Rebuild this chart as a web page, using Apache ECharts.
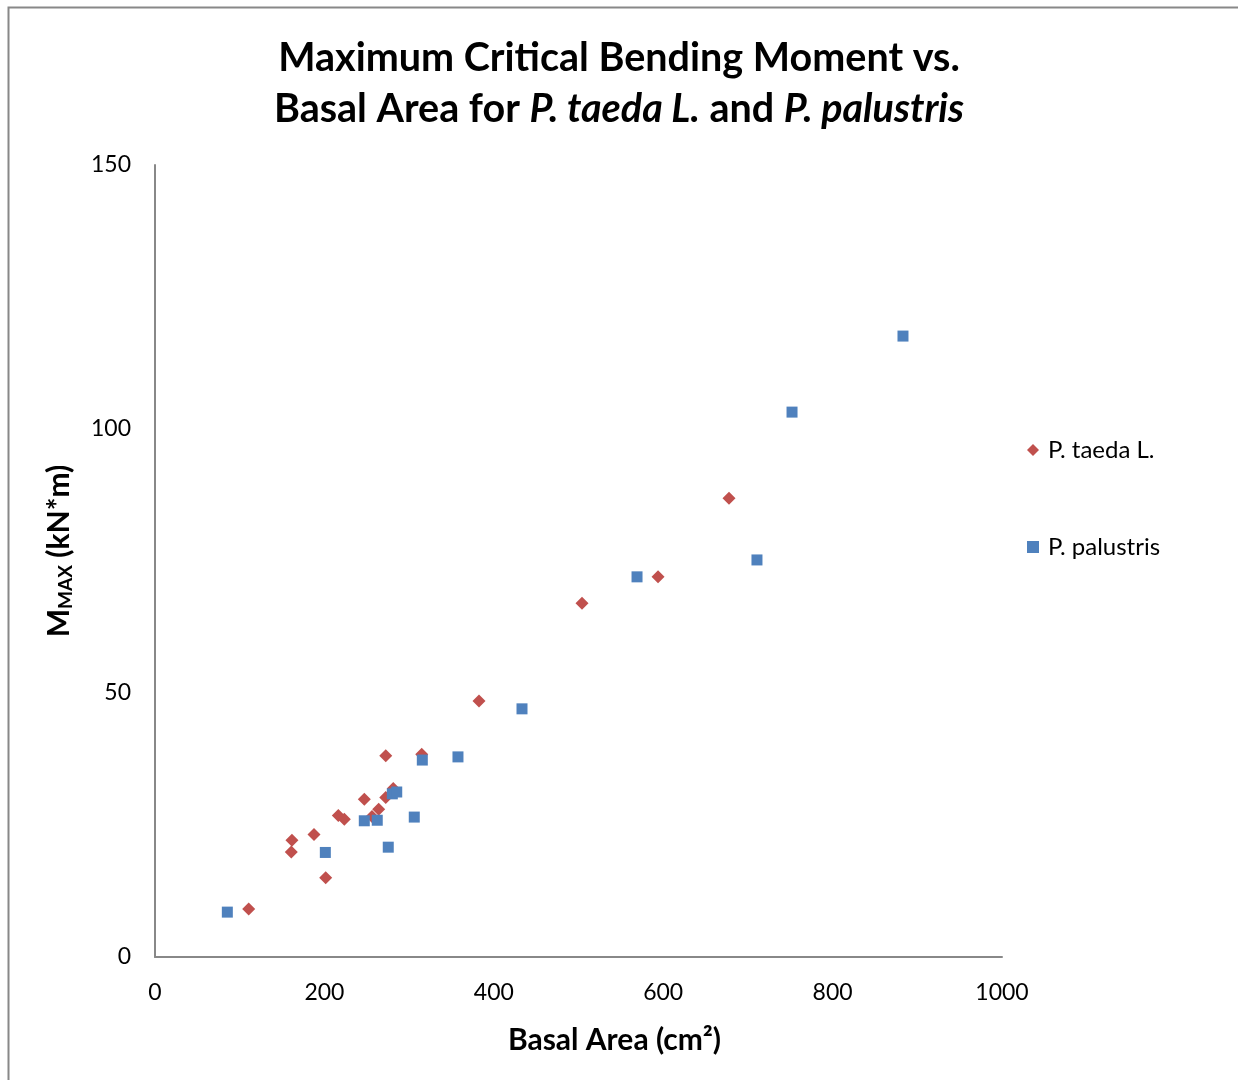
<!DOCTYPE html>
<html>
<head>
<meta charset="utf-8">
<script src="https://cdn.jsdelivr.net/npm/echarts@6/dist/echarts.min.js"></script>
<style>
html,body{margin:0;padding:0;background:#fff;}
#c{width:1238px;height:1080px;}
</style>
</head>
<body>
<div id="c"></div>
<script>
// P. taeda L. : [basal area cm², Mmax kN*m]
const taedaX = [110.6, 160.9, 161.7, 187.7, 201.5, 216.4, 223.5, 247.1, 256.2, 264.1, 272.4, 272.4, 281.3, 314.9, 382.5, 504.1, 593.9, 677.7];
const taedaY = [9.1, 19.9, 22.1, 23.2, 15.0, 26.8, 26.1, 29.9, 26.6, 28.0, 30.2, 38.1, 31.9, 38.4, 48.5, 67.0, 72.0, 86.9];
// P. palustris
const palX = [85.4, 201.1, 247.1, 262.4, 275.4, 280.2, 285.4, 306.1, 315.6, 357.7, 433.3, 569.1, 710.7, 752.1, 883.1];
const palY = [8.5, 19.8, 25.8, 25.9, 20.8, 30.9, 31.25, 26.5, 37.3, 37.9, 47.0, 72.0, 75.2, 103.2, 117.6];
const seriesNames = ['P. taeda L.', 'P. palustris'];
const xTicks = {min: 0, max: 1000, interval: 200};
const yTicks = {min: 0, max: 150, interval: 50};

const font = 'Lato, "Open Sans", sans-serif';
const chart = echarts.init(document.getElementById('c'));
chart.setOption({
  animation: false,
  backgroundColor: '#fff',
  graphic: [{
    type: 'rect', shape: {x: 8.5, y: 7.5, width: 1240, height: 1090},
    style: {fill: 'none', stroke: '#888', lineWidth: 2}, silent: true
  }],
  title: {
    left: 'center', top: 28, padding: [5, 5, 5, 15],
    text: 'Maximum Critical Bending Moment vs.\nBasal Area for {i|P. taeda L.} and {i|P. palustris}',
    textStyle: {
      fontFamily: font, fontSize: 39.5, fontWeight: 'bold', color: '#000', lineHeight: 51,
      rich: {i: {fontFamily: font, fontSize: 39.5, fontWeight: 'bold', fontStyle: 'italic', color: '#000'}}
    }
  },
  legend: {
    orient: 'vertical', left: 1022, top: 433, itemGap: 73,
    itemWidth: 12, itemHeight: 12,
    textStyle: {fontFamily: font, fontSize: 24, color: '#000', padding: [0, 0, 0, 4]},
    data: [
      {name: seriesNames[0], icon: 'diamond'},
      {name: seriesNames[1], icon: 'rect'}
    ]
  },
  grid: {left: 155, right: 236, top: 165, bottom: 123},
  xAxis: {
    type: 'value', min: xTicks.min, max: xTicks.max, interval: xTicks.interval,
    name: 'Basal Area (cm²)', nameLocation: 'middle', nameGap: 68,
    nameTextStyle: {fontFamily: font, fontSize: 30, fontWeight: 'bold', color: '#000', padding: [0, 0, 0, 72]},
    axisLine: {lineStyle: {color: '#888', width: 2}},
    axisTick: {show: false},
    splitLine: {show: false},
    axisLabel: {fontFamily: font, fontSize: 23, color: '#000', margin: 24, formatter: v => String(v)}
  },
  yAxis: {
    type: 'value', min: yTicks.min, max: yTicks.max, interval: yTicks.interval,
    name: '{m|M}{s|MAX}{m| (kN*m)}', nameLocation: 'middle', nameGap: 80, nameRotate: 90,
    nameTextStyle: {
      padding: [0, 0, 0, 20],
      rich: {
        m: {fontFamily: font, fontSize: 30, fontWeight: 'bold', color: '#000'},
        s: {fontFamily: font, fontSize: 19, fontWeight: 'bold', color: '#000', verticalAlign: 'bottom', padding: [12, 0, 0, 0]}
      }
    },
    axisLine: {show: true, lineStyle: {color: '#888', width: 2}},
    axisTick: {show: false},
    splitLine: {show: false},
    axisLabel: {fontFamily: font, fontSize: 23, color: '#000', margin: 24, formatter: v => String(v)}
  },
  series: [
    {
      name: seriesNames[0], type: 'scatter', symbol: 'diamond', symbolSize: 13,
      itemStyle: {color: '#C0504D', opacity: 1},
      data: taedaX.map((x, i) => [x, taedaY[i]])
    },
    {
      name: seriesNames[1], type: 'scatter', symbol: 'rect', symbolSize: 11,
      itemStyle: {color: '#4F81BD', opacity: 1},
      data: palX.map((x, i) => [x, palY[i]])
    }
  ]
});
</script>
</body>
</html>
